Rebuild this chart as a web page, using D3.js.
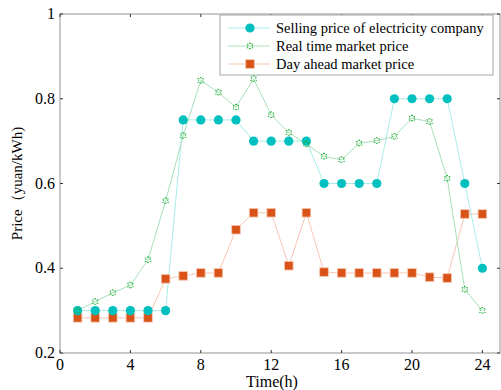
<!DOCTYPE html>
<html>
<head>
<meta charset="utf-8">
<script src="https://cdn.jsdelivr.net/npm/d3@7"></script>
<style>
  body { margin: 0; background: #fff; }
</style>
</head>
<body>
<div id="chart"></div>
<script>
// data
var hours = d3.range(1, 25);
var sellingPrice = [0.30, 0.30, 0.30, 0.30, 0.30, 0.30, 0.75, 0.75, 0.75, 0.75, 0.70, 0.70,
                    0.70, 0.70, 0.60, 0.60, 0.60, 0.60, 0.80, 0.80, 0.80, 0.80, 0.60, 0.40];
var realTimePrice = [0.300, 0.321, 0.342, 0.360, 0.420, 0.559, 0.713, 0.843, 0.815, 0.780, 0.847, 0.762,
                     0.720, 0.693, 0.664, 0.656, 0.695, 0.701, 0.711, 0.754, 0.746, 0.612, 0.350, 0.300];
var dayAheadPrice = [0.283, 0.283, 0.283, 0.283, 0.283, 0.375, 0.382, 0.389, 0.389, 0.491, 0.531, 0.531,
                     0.406, 0.531, 0.391, 0.389, 0.389, 0.389, 0.389, 0.389, 0.379, 0.377, 0.528, 0.528];
var seriesNames = ["Selling price of electricity company", "Real time market price", "Day ahead market price"];
var xTicks = [0, 4, 8, 12, 16, 20, 24];
var yTicks = [0.2, 0.4, 0.6, 0.8, 1];

var margin = {top: 14, right: 1, bottom: 37, left: 60},
    width = 501 - margin.left - margin.right,
    height = 390 - margin.top - margin.bottom;

var svg = d3.select("#chart").append("svg")
    .attr("width", 501)
    .attr("height", 390)
    .attr("font-family", "'Liberation Serif', 'Times New Roman', 'DejaVu Serif', serif")
  .append("g")
    .attr("transform", "translate(" + margin.left + "," + margin.top + ")");

var x = d3.scaleLinear().domain([0, 25]).range([0, width]);
var y = d3.scaleLinear().domain([0.2, 1]).range([height, 0]);

// box
svg.append("rect")
    .attr("width", width)
    .attr("height", height)
    .attr("fill", "none")
    .attr("stroke", "#a6a6a6")
    .attr("stroke-width", 1.2);

// tick marks, inside, on all four sides
xTicks.forEach(function(t) {
    svg.append("line").attr("x1", x(t)).attr("x2", x(t)).attr("y1", height).attr("y2", height - 3).attr("stroke", "#333");
    svg.append("line").attr("x1", x(t)).attr("x2", x(t)).attr("y1", 0).attr("y2", 3).attr("stroke", "#333");
});
yTicks.forEach(function(t) {
    svg.append("line").attr("x1", 0).attr("x2", 3).attr("y1", y(t)).attr("y2", y(t)).attr("stroke", "#333");
    svg.append("line").attr("x1", width).attr("x2", width - 3).attr("y1", y(t)).attr("y2", y(t)).attr("stroke", "#333");
});

svg.selectAll(".xlab").data(xTicks).enter().append("text")
    .attr("x", function(d) { return x(d); })
    .attr("y", height + 17)
    .attr("text-anchor", "middle")
    .style("font-size", "16px")
    .text(function(d) { return d; });

svg.selectAll(".ylab").data(yTicks).enter().append("text")
    .attr("x", -5)
    .attr("y", function(d) { return y(d) + 5; })
    .attr("text-anchor", "end")
    .style("font-size", "16px")
    .text(function(d) { return d === 1 ? "1" : d.toFixed(1); });

svg.append("text")
    .attr("x", width / 2 - 8)
    .attr("y", height + 34)
    .attr("text-anchor", "middle")
    .style("font-size", "16px")
    .text("Time(h)");

svg.append("text")
    .attr("transform", "translate(" + (-38) + "," + (height / 2) + ") rotate(-90)")
    .attr("text-anchor", "middle")
    .style("font-size", "15px")
    .text("Price（yuan/kWh)");

var line = d3.line()
    .x(function(d) { return x(d[0]); })
    .y(function(d) { return y(d[1]); });

function pairs(vals) { return hours.map(function(h, i) { return [h, vals[i]]; }); }

var hexPath = "M0,-3.5 L1,-1.8 L3,-1.8 L2,0 L3,1.8 L1,1.8 L0,3.5 L-1,1.8 L-3,1.8 L-2,0 L-3,-1.8 L-1,-1.8 Z";

function drawMarker(g, kind) {
    if (kind === 0) {
        g.append("circle").attr("r", 4.6).attr("fill", "#00bfbf");
    } else if (kind === 1) {
        g.append("path").attr("d", hexPath)
            .attr("fill", "none")
            .attr("stroke", "#22b33a")
            .attr("stroke-width", 1)
            .attr("stroke-dasharray", "1.5,1");
    } else {
        g.append("rect").attr("x", -4.3).attr("y", -4.3).attr("width", 8.6).attr("height", 8.6)
            .attr("fill", "#d95319").attr("stroke", "#f5c6b0").attr("stroke-width", 0.8);
    }
}

var lineColors = ["#a8ece8", "#a9dfb8", "#f7c7b3"];
var allSeries = [sellingPrice, realTimePrice, dayAheadPrice];

// draw day ahead first, then selling, then real time on top
[2, 0, 1].forEach(function(k) {
    svg.append("path")
        .datum(pairs(allSeries[k]))
        .attr("fill", "none")
        .attr("stroke", lineColors[k])
        .attr("stroke-width", 1)
        .attr("d", line);
});
[2, 0, 1].forEach(function(k) {
    svg.selectAll(".m" + k)
        .data(pairs(allSeries[k]))
        .enter().append("g")
        .attr("transform", function(d) { return "translate(" + x(d[0]) + "," + y(d[1]) + ")"; })
        .each(function() { drawMarker(d3.select(this), k); });
});

// legend
var legend = svg.append("g").attr("transform", "translate(" + (220 - margin.left) + "," + (15 - margin.top) + ")");
legend.append("rect")
    .attr("width", 273)
    .attr("height", 60)
    .attr("fill", "#fff")
    .attr("stroke", "#a6a6a6")
    .attr("stroke-width", 1);

seriesNames.forEach(function(name, k) {
    var ly = 13 + k * 18;
    legend.append("line")
        .attr("x1", 8).attr("x2", 50)
        .attr("y1", ly).attr("y2", ly)
        .attr("stroke", lineColors[k]);
    var m = legend.append("g").attr("transform", "translate(30," + ly + ")");
    drawMarker(m, k);
    legend.append("text")
        .attr("x", 56)
        .attr("y", ly + 5)
        .style("font-size", "14.5px")
        .text(name);
});
</script>
</body>
</html>
